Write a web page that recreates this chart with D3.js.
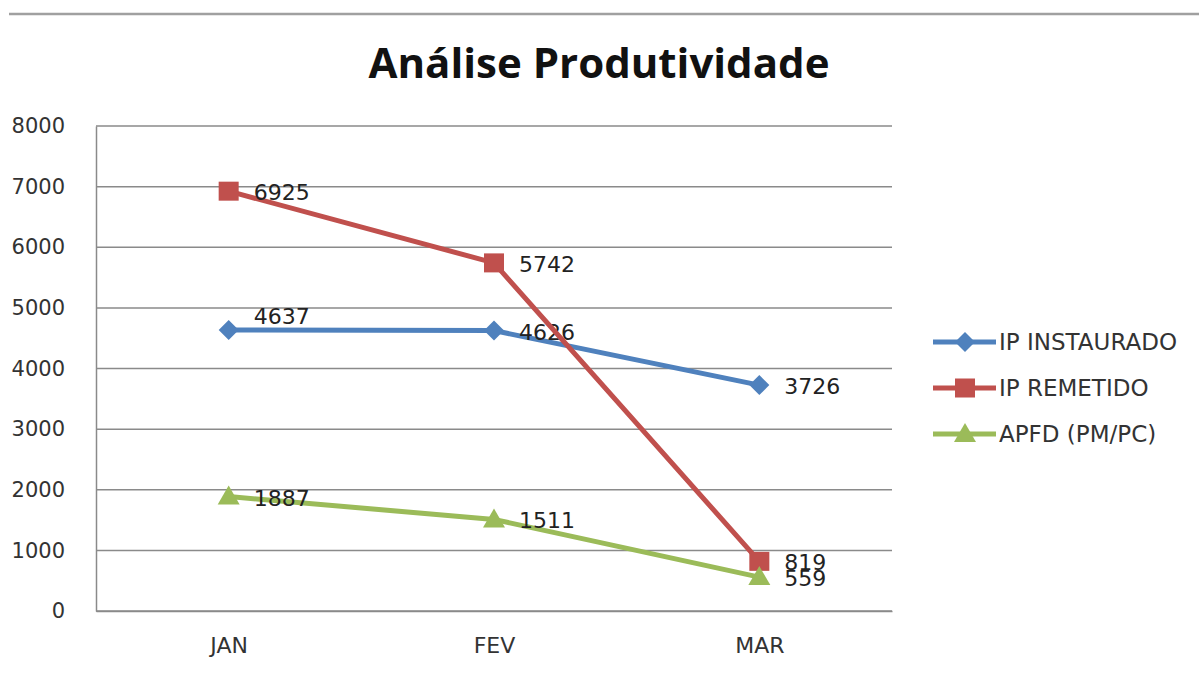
<!DOCTYPE html>
<html>
<head>
<meta charset="utf-8">
<script src="https://cdn.jsdelivr.net/npm/d3@7"></script>
<style>
  body { margin: 0; background: #fff; }
  svg { display: block; }
</style>
</head>
<body>
<svg id="chart" width="1199" height="673"></svg>
<script>
// data
const months = ['JAN', 'FEV', 'MAR'];
const ipInstaurado = [4637, 4626, 3726];
const ipRemetido = [6925, 5742, 819];
const apfd = [1887, 1511, 559];
const yTicks = [0, 1000, 2000, 3000, 4000, 5000, 6000, 7000, 8000];

const series = [
  { name: 'IP INSTAURADO', values: ipInstaurado, color: '#4F81BD', shape: 'diamond' },
  { name: 'IP REMETIDO', values: ipRemetido, color: '#C0504D', shape: 'square' },
  { name: 'APFD (PM/PC)', values: apfd, color: '#9BBB59', shape: 'triangle' }
];

const svg = d3.select('#chart');
const plot = { left: 96, right: 892, top: 126, bottom: 611 };
const font = '"DejaVu Sans", Verdana, sans-serif';

const x = d3.scalePoint().domain(months).range([plot.left, plot.right]).padding(0.5);
const y = d3.scaleLinear().domain([0, 8000]).range([plot.bottom, plot.top]);

// frame line at the top of the picture
svg.append('line')
  .attr('x1', 9).attr('x2', 1199).attr('y1', 14).attr('y2', 14)
  .attr('stroke', '#a0a0a0').attr('stroke-width', 2.5);

svg.append('text')
  .attr('x', 599).attr('y', 78)
  .attr('text-anchor', 'middle')
  .style('font-family', '"Open Sans", sans-serif')
  .style('font-weight', 'bold')
  .style('font-size', '42px')
  .attr('fill', '#111')
  .text('Análise Produtividade');

// gridlines
svg.append('g').selectAll('line')
  .data(yTicks)
  .enter().append('line')
    .attr('x1', plot.left).attr('x2', plot.right)
    .attr('y1', d => y(d)).attr('y2', d => y(d))
    .attr('stroke', '#8a8a8a').attr('stroke-width', 1.5);

// y axis
const yAxis = svg.append('g')
  .attr('transform', `translate(${plot.left},0)`)
  .call(d3.axisLeft(y).tickValues(yTicks).tickSize(0).tickPadding(31).tickFormat(d3.format('d')));
yAxis.select('.domain').attr('stroke', '#8a8a8a').attr('stroke-width', 1.5);
yAxis.selectAll('text')
  .style('font-family', font)
  .style('font-size', '21px')
  .attr('fill', '#333');

// x axis
const xAxis = svg.append('g')
  .attr('transform', `translate(0,${plot.bottom})`)
  .call(d3.axisBottom(x).tickSize(0).tickPadding(26));
xAxis.select('.domain').attr('stroke', '#8a8a8a').attr('stroke-width', 1.5);
xAxis.selectAll('text')
  .style('font-family', font)
  .style('font-size', '22px')
  .attr('fill', '#333');

function marker(sel, shape, color) {
  if (shape === 'square') {
    sel.append('rect').attr('x', -10).attr('y', -9.5).attr('width', 20).attr('height', 19).attr('fill', color);
  } else if (shape === 'diamond') {
    sel.append('path').attr('d', 'M0,-10L10,0L0,10L-10,0Z').attr('fill', color);
  } else {
    sel.append('path').attr('d', 'M0,-11L11,8L-11,8Z').attr('fill', color);
  }
}

const line = d3.line().x((d, i) => x(months[i])).y(d => y(d));

// label nudges (JAN of IP INSTAURADO sits above its point)
const labelDy = { 'IP INSTAURADO|JAN': -15 };

series.forEach(s => {
  const g = svg.append('g');
  g.append('path')
    .datum(s.values)
    .attr('d', line)
    .attr('fill', 'none')
    .attr('stroke', s.color)
    .attr('stroke-width', 5);

  g.selectAll('g.pt')
    .data(s.values)
    .enter().append('g')
      .attr('class', 'pt')
      .attr('transform', (d, i) => `translate(${x(months[i])},${y(d)})`)
      .each(function() { marker(d3.select(this), s.shape, s.color); });

  g.selectAll('text')
    .data(s.values)
    .enter().append('text')
      .attr('x', (d, i) => x(months[i]) + 25)
      .attr('y', (d, i) => y(d) + 3 + (labelDy[s.name + '|' + months[i]] || 0))
      .attr('dominant-baseline', 'middle')
      .style('font-family', font)
      .style('font-size', '22px')
      .attr('fill', '#222')
      .text(d => d);
});

// legend
const legend = svg.append('g');
series.forEach((s, i) => {
  const ly = 342 + i * 46;
  const item = legend.append('g');
  item.append('line')
    .attr('x1', 933).attr('x2', 996).attr('y1', ly).attr('y2', ly)
    .attr('stroke', s.color).attr('stroke-width', 5);
  const m = item.append('g').attr('transform', `translate(965,${ly})`);
  marker(m, s.shape, s.color);
  item.append('text')
    .attr('x', 999).attr('y', ly + 1)
    .attr('dominant-baseline', 'middle')
    .style('font-family', font)
    .style('font-size', '23px')
    .attr('fill', '#333')
    .text(s.name);
});
</script>
</body>
</html>
